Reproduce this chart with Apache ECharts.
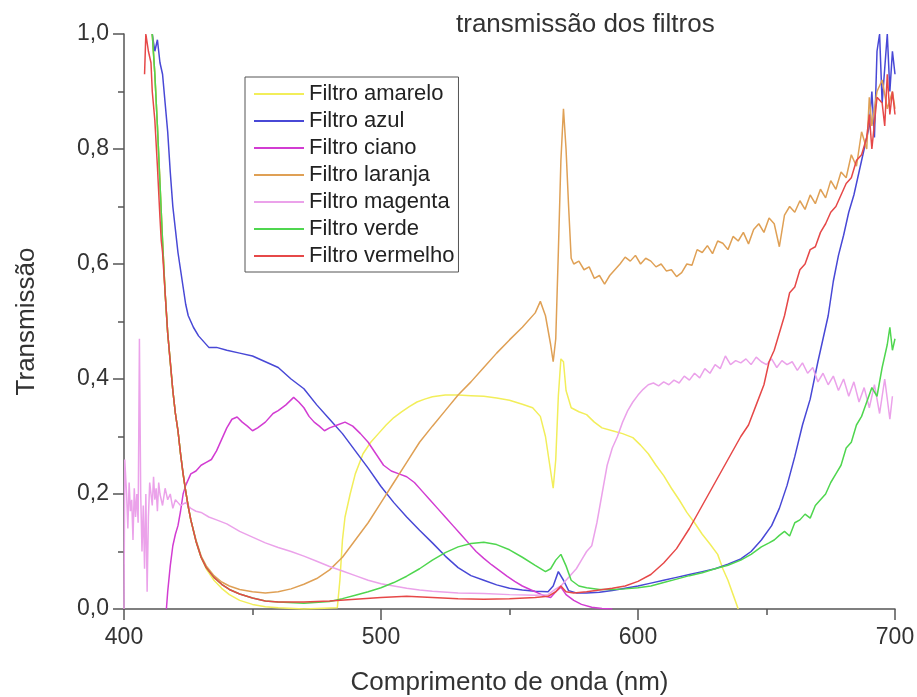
<!DOCTYPE html>
<html>
<head>
<meta charset="utf-8">
<title>transmissão dos filtros</title>
<script src="https://cdn.jsdelivr.net/npm/echarts@6/dist/echarts.min.js"></script>
<style>
  html, body { margin: 0; padding: 0; background: #fff; }
  #chart { width: 917px; height: 697px; }
</style>
</head>
<body>
<div id="chart"></div>
<script>
// 数据 [comprimento de onda (nm), transmissão]
const amarelo = [[411,1.0],[412,0.93],[413,0.84],[414,0.74],[415,0.64],[416,0.55],[417,0.48],[418,0.43],[419,0.38],[420,0.34],[421,0.31],[422,0.27],[423,0.235],[424,0.205],[425,0.178],[426,0.155],[428,0.118],[430,0.09],[432,0.07],[435,0.05],[438,0.036],[441,0.025],[445,0.015],[450,0.008],[455,0.004],[460,0.002],[470,0.0],[483,0.002],[484,0.05],[485,0.12],[486,0.16],[488,0.2],[490,0.235],[493,0.27],[496,0.29],[499,0.305],[502,0.32],[505,0.333],[508,0.343],[511,0.352],[514,0.36],[517,0.365],[520,0.369],[525,0.372],[530,0.372],[535,0.371],[540,0.37],[545,0.367],[550,0.363],[555,0.356],[559,0.35],[562,0.335],[564,0.3],[566,0.24],[567,0.21],[568,0.26],[569,0.37],[570,0.435],[571,0.43],[572,0.38],[574,0.35],[577,0.343],[580,0.338],[583,0.325],[586,0.315],[590,0.31],[594,0.305],[598,0.298],[601,0.285],[604,0.27],[607,0.25],[610,0.232],[613,0.21],[616,0.19],[619,0.168],[622,0.15],[625,0.13],[628,0.113],[631,0.095],[633,0.07],[635,0.05],[637,0.025],[639,0.0]];

const azul = [[411,1.0],[412,0.97],[413,0.99],[414,0.95],[415,0.93],[416,0.88],[417,0.83],[418,0.76],[419,0.7],[420,0.66],[421,0.62],[422,0.59],[423,0.56],[424,0.53],[425,0.51],[427,0.49],[429,0.475],[431,0.465],[433,0.455],[436,0.455],[440,0.45],[445,0.445],[450,0.44],[455,0.43],[460,0.42],[465,0.4],[470,0.383],[475,0.355],[480,0.33],[485,0.305],[490,0.275],[495,0.245],[500,0.213],[505,0.185],[510,0.16],[515,0.137],[520,0.115],[525,0.092],[530,0.072],[535,0.058],[540,0.05],[545,0.042],[550,0.036],[555,0.033],[560,0.031],[565,0.03],[567,0.04],[569,0.065],[571,0.05],[573,0.032],[576,0.028],[580,0.028],[585,0.029],[590,0.032],[595,0.036],[600,0.04],[605,0.045],[610,0.05],[615,0.055],[620,0.06],[625,0.065],[630,0.07],[635,0.078],[640,0.087],[644,0.1],[648,0.12],[652,0.145],[655,0.175],[658,0.215],[661,0.265],[664,0.32],[667,0.365],[670,0.43],[672,0.47],[674,0.51],[676,0.57],[678,0.615],[680,0.65],[682,0.69],[684,0.72],[686,0.76],[688,0.8],[690,0.84],[691,0.9],[692,0.82],[693,0.97],[694,1.0],[695,0.88],[696,0.94],[697,1.0],[698,0.9],[699,0.97],[700,0.93]];

const ciano = [[416.5,0.0],[417,0.03],[418,0.075],[419,0.11],[420,0.13],[421,0.145],[422,0.17],[423,0.2],[424,0.215],[425,0.225],[426,0.235],[428,0.24],[430,0.25],[432,0.255],[434,0.26],[436,0.275],[438,0.295],[440,0.315],[442,0.33],[444,0.334],[446,0.325],[448,0.318],[450,0.31],[452,0.315],[455,0.325],[458,0.34],[460,0.345],[463,0.355],[466,0.368],[468,0.36],[470,0.35],[472,0.335],[474,0.325],[476,0.318],[478,0.31],[480,0.315],[483,0.32],[486,0.325],[489,0.318],[492,0.305],[495,0.29],[498,0.27],[501,0.25],[504,0.24],[507,0.235],[510,0.23],[513,0.22],[516,0.205],[519,0.19],[522,0.175],[525,0.16],[528,0.145],[531,0.13],[534,0.115],[537,0.1],[540,0.088],[543,0.077],[546,0.067],[549,0.057],[552,0.048],[555,0.04],[558,0.034],[561,0.028],[564,0.022],[566,0.02],[568,0.03],[570,0.038],[572,0.025],[575,0.015],[578,0.008],[582,0.003],[586,0.001],[590,0.0]];

const laranja = [[411,1.0],[412,0.93],[413,0.84],[414,0.74],[415,0.64],[416,0.55],[417,0.48],[418,0.43],[419,0.38],[420,0.34],[421,0.31],[422,0.27],[423,0.235],[424,0.205],[425,0.178],[426,0.155],[428,0.12],[430,0.092],[432,0.075],[435,0.058],[438,0.047],[441,0.04],[445,0.034],[450,0.03],[455,0.028],[460,0.03],[465,0.035],[470,0.043],[475,0.053],[480,0.068],[485,0.09],[490,0.12],[495,0.15],[500,0.185],[505,0.22],[510,0.255],[515,0.29],[520,0.318],[525,0.345],[530,0.372],[535,0.395],[540,0.42],[545,0.445],[550,0.468],[555,0.49],[560,0.515],[562,0.535],[564,0.51],[566,0.46],[567,0.43],[568,0.47],[569,0.62],[570,0.78],[571,0.87],[572,0.8],[573,0.7],[574,0.61],[575,0.6],[577,0.605],[579,0.59],[581,0.595],[583,0.575],[585,0.58],[587,0.565],[589,0.58],[591,0.59],[593,0.6],[595,0.612],[597,0.605],[599,0.615],[601,0.6],[603,0.61],[605,0.605],[607,0.595],[609,0.6],[611,0.588],[613,0.59],[615,0.578],[617,0.585],[619,0.6],[621,0.598],[623,0.625],[625,0.62],[627,0.632],[629,0.618],[631,0.64],[633,0.636],[635,0.625],[637,0.648],[639,0.64],[641,0.655],[643,0.635],[645,0.66],[647,0.67],[649,0.655],[651,0.68],[653,0.67],[655,0.63],[657,0.685],[659,0.7],[661,0.69],[663,0.71],[665,0.695],[667,0.72],[669,0.705],[671,0.73],[673,0.715],[675,0.745],[677,0.73],[679,0.76],[681,0.75],[683,0.79],[685,0.77],[687,0.83],[689,0.8],[690,0.89],[691,0.84],[693,0.9],[695,0.92],[697,0.87],[699,0.9],[700,0.87]];

const magenta = [[400,0.0],[400.3,0.26],[401,0.2],[401.5,0.14],[402,0.22],[402.5,0.17],[403,0.19],[403.5,0.12],[404,0.21],[404.5,0.16],[405,0.2],[405.5,0.15],[406,0.47],[406.5,0.2],[407,0.1],[407.5,0.18],[408,0.07],[408.5,0.2],[409,0.03],[409.5,0.16],[410,0.22],[410.5,0.2],[411,0.18],[411.5,0.23],[412,0.19],[412.5,0.21],[413,0.17],[413.5,0.22],[414,0.2],[415,0.18],[416,0.21],[417,0.19],[418,0.2],[419,0.175],[420,0.19],[421,0.185],[422,0.18],[424,0.185],[426,0.175],[428,0.17],[430,0.168],[433,0.16],[436,0.155],[440,0.148],[445,0.135],[450,0.125],[455,0.115],[460,0.107],[465,0.1],[470,0.092],[475,0.083],[480,0.074],[485,0.066],[490,0.058],[495,0.05],[500,0.044],[505,0.04],[510,0.036],[515,0.033],[520,0.031],[530,0.028],[540,0.027],[550,0.025],[560,0.024],[565,0.025],[568,0.035],[570,0.04],[572,0.05],[574,0.06],[576,0.07],[578,0.085],[580,0.1],[582,0.11],[584,0.15],[586,0.2],[588,0.25],[590,0.28],[592,0.3],[594,0.325],[596,0.345],[598,0.36],[600,0.372],[602,0.382],[604,0.39],[606,0.393],[608,0.388],[610,0.395],[612,0.39],[614,0.398],[616,0.393],[618,0.405],[620,0.398],[622,0.41],[624,0.402],[626,0.418],[628,0.41],[630,0.425],[632,0.418],[634,0.44],[636,0.425],[638,0.432],[640,0.428],[642,0.435],[644,0.425],[646,0.438],[648,0.43],[650,0.425],[652,0.435],[654,0.42],[656,0.432],[658,0.425],[660,0.43],[662,0.415],[664,0.428],[666,0.41],[668,0.42],[670,0.395],[672,0.41],[674,0.39],[676,0.405],[678,0.38],[680,0.4],[682,0.37],[684,0.395],[686,0.36],[688,0.385],[690,0.35],[692,0.39],[694,0.34],[696,0.4],[698,0.33],[699,0.37]];

const verde = [[411,1.0],[412,0.93],[413,0.84],[414,0.74],[415,0.64],[416,0.55],[417,0.48],[418,0.43],[419,0.38],[420,0.34],[421,0.31],[422,0.27],[423,0.235],[424,0.205],[425,0.178],[426,0.155],[428,0.118],[430,0.09],[432,0.072],[435,0.055],[438,0.043],[441,0.034],[445,0.026],[450,0.019],[455,0.014],[460,0.012],[470,0.01],[480,0.013],[485,0.018],[490,0.024],[495,0.03],[500,0.037],[505,0.046],[510,0.057],[515,0.07],[520,0.085],[525,0.098],[530,0.108],[535,0.114],[540,0.116],[545,0.112],[550,0.103],[555,0.09],[560,0.076],[564,0.065],[566,0.07],[568,0.085],[570,0.095],[572,0.075],[574,0.05],[577,0.04],[580,0.037],[585,0.034],[590,0.034],[595,0.035],[600,0.037],[605,0.04],[610,0.046],[615,0.052],[620,0.058],[625,0.063],[630,0.07],[635,0.076],[640,0.085],[644,0.095],[648,0.108],[651,0.115],[653,0.12],[655,0.128],[657,0.135],[659,0.127],[661,0.15],[663,0.155],[665,0.165],[667,0.158],[669,0.18],[671,0.19],[673,0.2],[675,0.22],[677,0.235],[679,0.25],[681,0.28],[683,0.29],[685,0.32],[687,0.335],[689,0.36],[691,0.385],[693,0.37],[695,0.42],[697,0.46],[698,0.49],[699,0.45],[700,0.47]];

const vermelho = [[408,0.93],[408.5,1.0],[409.5,0.97],[410.5,0.95],[411,0.9],[412,0.85],[413,0.77],[414,0.68],[414.5,0.64],[415,0.62],[416,0.55],[417,0.48],[418,0.43],[419,0.38],[420,0.34],[421,0.31],[422,0.27],[423,0.235],[424,0.205],[425,0.178],[426,0.155],[428,0.118],[430,0.09],[432,0.072],[435,0.055],[438,0.043],[441,0.034],[445,0.026],[450,0.019],[455,0.014],[460,0.012],[470,0.012],[480,0.014],[490,0.017],[500,0.02],[510,0.022],[520,0.02],[530,0.018],[540,0.017],[550,0.018],[560,0.02],[565,0.022],[568,0.03],[570,0.04],[572,0.03],[575,0.028],[580,0.03],[585,0.033],[590,0.036],[595,0.04],[600,0.048],[605,0.06],[610,0.08],[615,0.105],[620,0.14],[625,0.18],[630,0.22],[635,0.26],[640,0.3],[643,0.32],[646,0.355],[649,0.39],[651,0.43],[653,0.45],[655,0.48],[657,0.51],[659,0.55],[661,0.56],[663,0.59],[665,0.6],[667,0.625],[669,0.63],[671,0.655],[673,0.67],[675,0.69],[677,0.7],[679,0.72],[681,0.74],[683,0.75],[685,0.78],[687,0.79],[689,0.82],[690,0.86],[691,0.8],[693,0.89],[695,0.88],[696,0.84],[697,0.93],[698,0.86],[699,0.9],[700,0.86]];

const nomes = ['Filtro amarelo', 'Filtro azul', 'Filtro ciano', 'Filtro laranja', 'Filtro magenta', 'Filtro verde', 'Filtro vermelho'];
const dados = [amarelo, azul, ciano, laranja, magenta, verde, vermelho];
const cores = ['#f2ee5a', '#4848d6', '#d23cd2', '#dfa055', '#eba2ea', '#4fd64f', '#e64848'];
const xTicks = [400, 500, 600, 700];

//初始化
const mychart = echarts.init(document.getElementById('chart'));
const fonte = 'Liberation Sans, Arial, sans-serif';

const option = {
    animation: false,
    color: cores,
    title: {
        text: 'transmissão dos filtros',
        left: 451,
        top: 7,
        textStyle: { fontFamily: fonte, fontSize: 26, fontWeight: 'normal', color: '#333' }
    },
    legend: {
        orient: 'vertical',
        left: 245,
        top: 77,
        data: nomes,
        icon: 'rect',
        itemWidth: 50,
        itemHeight: 2,
        itemGap: 5,
        padding: [6, 4, 5, 9],
        borderColor: '#555',
        borderWidth: 1,
        textStyle: { fontFamily: fonte, fontSize: 22, lineHeight: 22, color: '#222' }
    },
    // 固定绘图区, 不自动收缩
    grid: { left: 124, right: 22, top: 34, bottom: 88, outerBoundsMode: 'none' },
    xAxis: {
        type: 'value',
        min: 400,
        max: 700,
        interval: 100,
        name: 'Comprimento de onda (nm)',
        nameLocation: 'middle',
        nameGap: 61,
        nameTextStyle: { fontFamily: fonte, fontSize: 26, color: '#333' },
        axisLine: { lineStyle: { color: '#555', width: 1.5 } },
        axisTick: { inside: false, length: 11, lineStyle: { color: '#555', width: 1.5 } },
        minorTick: { show: true, splitNumber: 2, length: 6, lineStyle: { color: '#555', width: 1.5 } },
        axisLabel: {
            margin: 17,
            fontFamily: fonte, fontSize: 23, color: '#333',
            formatter: (v) => xTicks.includes(v) ? String(v) : ''
        },
        splitLine: { show: false }
    },
    yAxis: {
        type: 'value',
        min: 0,
        max: 1,
        interval: 0.2,
        name: 'Transmissão',
        nameLocation: 'middle',
        nameGap: 84,
        nameTextStyle: { fontFamily: fonte, fontSize: 26, color: '#333' },
        axisLine: { show: true, lineStyle: { color: '#555', width: 1.5 } },
        axisTick: { show: true, inside: false, length: 11, lineStyle: { color: '#555', width: 1.5 } },
        minorTick: { show: true, splitNumber: 2, length: 6, lineStyle: { color: '#555', width: 1.5 } },
        axisLabel: {
            margin: 15,
            fontFamily: fonte, fontSize: 23, color: '#333',
            formatter: (v) => v.toFixed(1).replace('.', ',')
        },
        splitLine: { show: false }
    },
    series: nomes.map((nome, i) => ({
        name: nome,
        type: 'line',
        data: dados[i],
        showSymbol: false,
        clip: true,
        lineStyle: { width: 1.5, color: cores[i] },
        itemStyle: { color: cores[i] }
    }))
};

//设置
mychart.setOption(option);
</script>
</body>
</html>
